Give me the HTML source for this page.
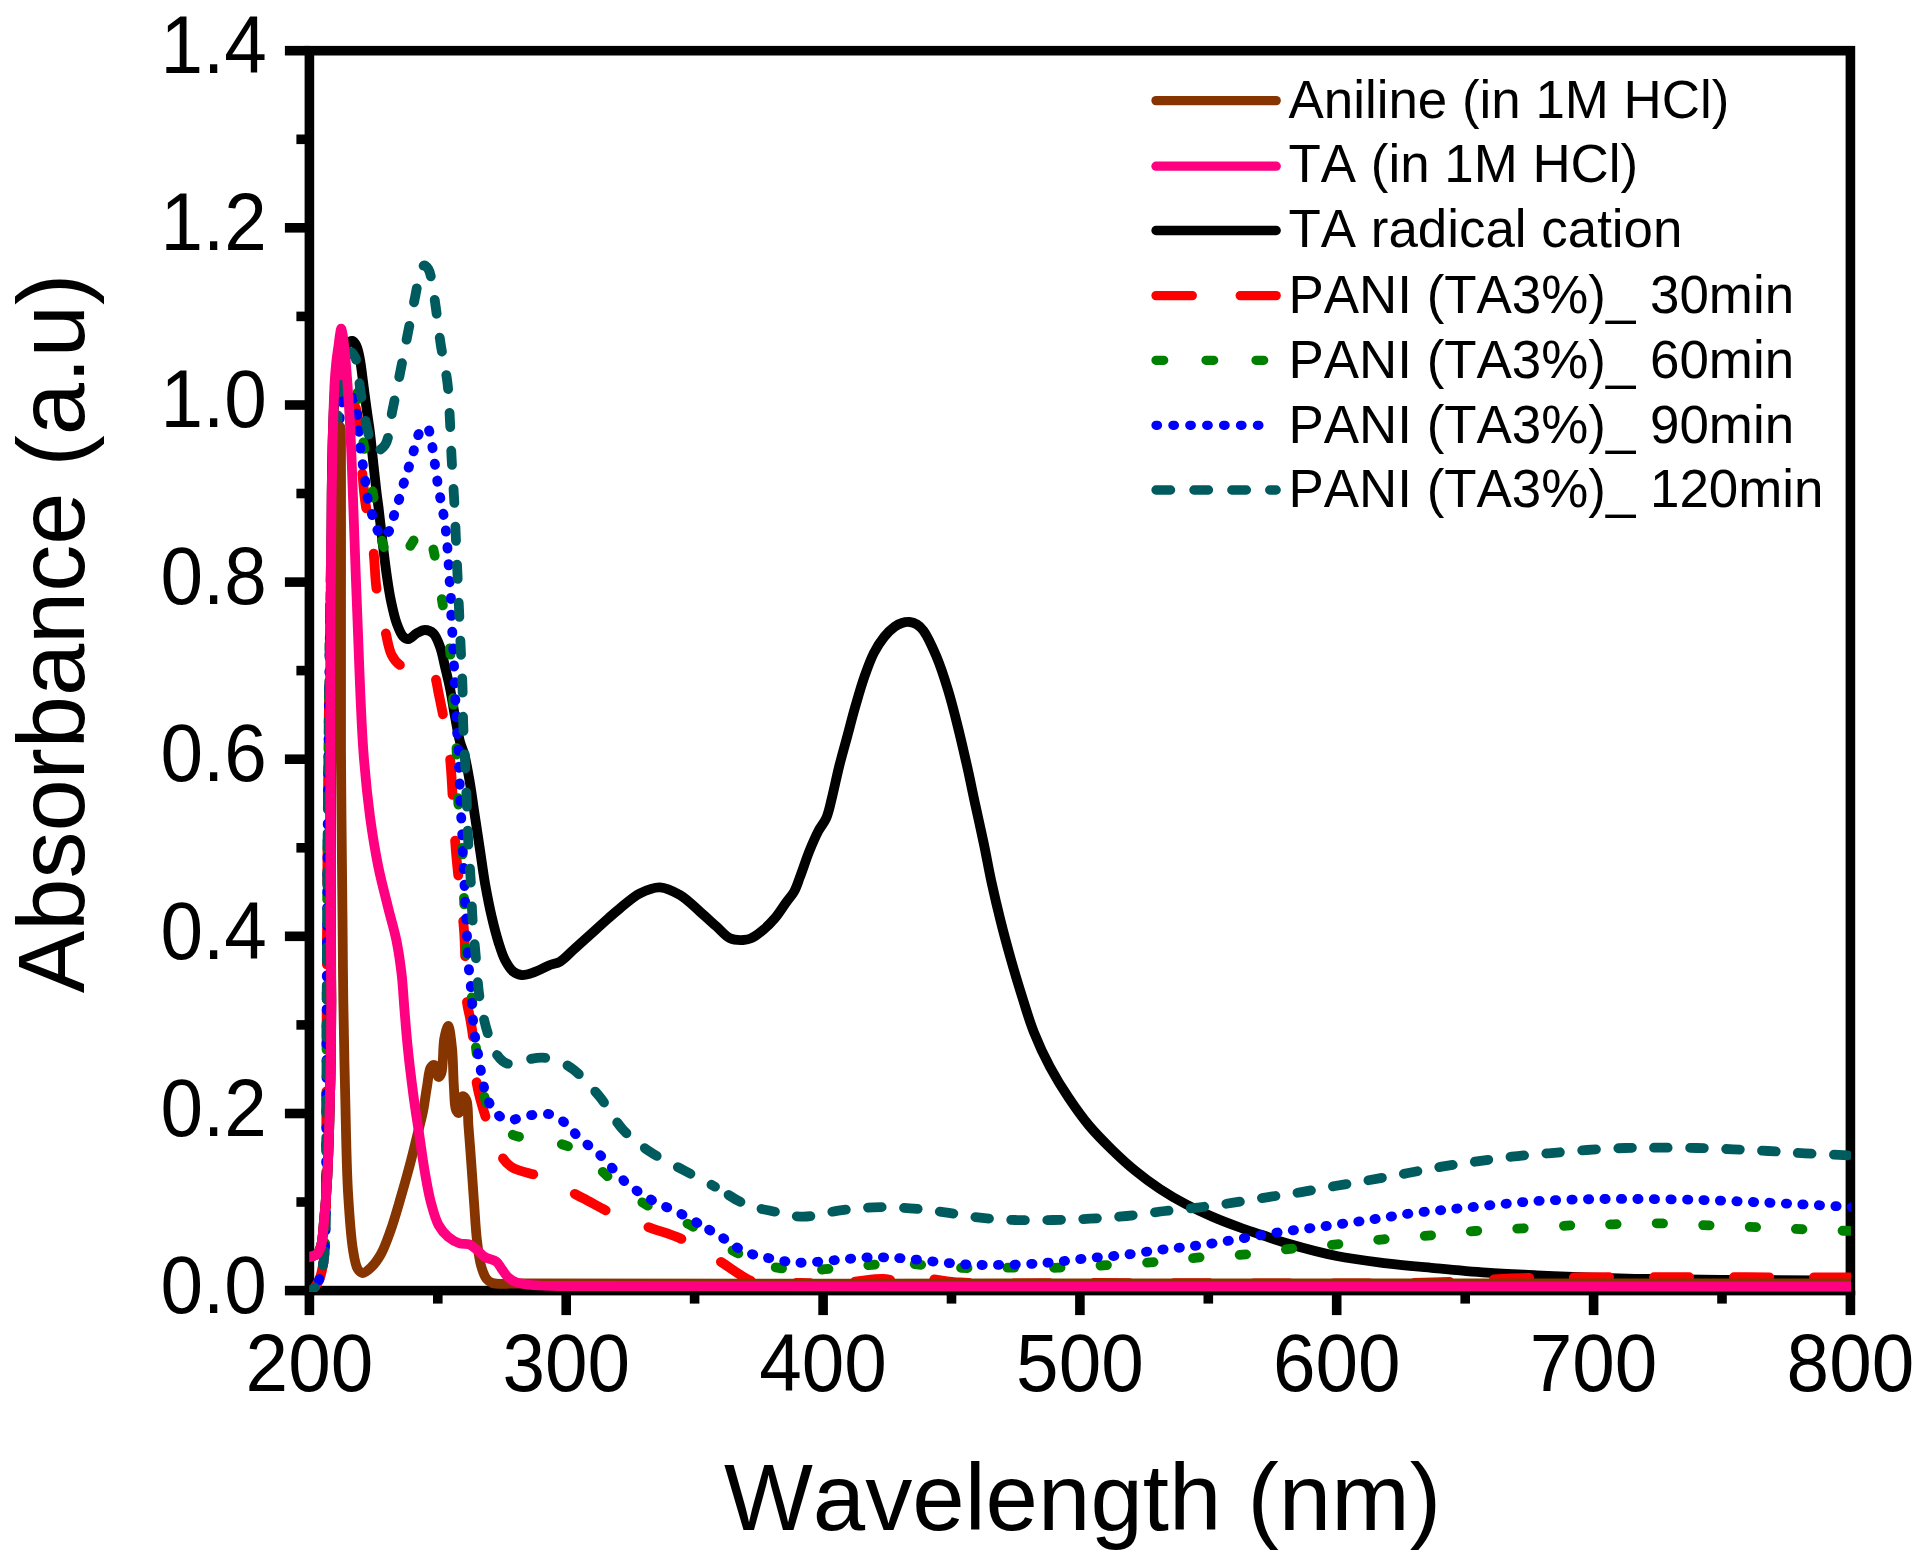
<!DOCTYPE html>
<html lang="en"><head><meta charset="utf-8"><title>UV-Vis Absorbance</title>
<style>html,body{margin:0;padding:0;background:#fff}body{width:1920px;height:1559px;overflow:hidden}svg{display:block}text{font-family:"Liberation Sans",sans-serif;fill:#000;font-kerning:none;font-variant-ligatures:none}</style></head><body>
<svg width="1920" height="1559" viewBox="0 0 1920 1559">
<rect width="1920" height="1559" fill="#fff"/>
<defs><clipPath id="plot"><rect x="309.4" y="45.7" width="1541.6" height="1246.4"/></clipPath></defs>
<g stroke="#000" stroke-width="9.6" fill="none" stroke-linecap="butt"><rect x="309.4" y="50.7" width="1541.0" height="1239.9"/><line x1="309.4" y1="1290.6" x2="309.4" y2="1315.1"/><line x1="566.2" y1="1290.6" x2="566.2" y2="1315.1"/><line x1="823.1" y1="1290.6" x2="823.1" y2="1315.1"/><line x1="1079.9" y1="1290.6" x2="1079.9" y2="1315.1"/><line x1="1336.7" y1="1290.6" x2="1336.7" y2="1315.1"/><line x1="1593.6" y1="1290.6" x2="1593.6" y2="1315.1"/><line x1="1850.4" y1="1290.6" x2="1850.4" y2="1315.1"/><line x1="437.8" y1="1290.6" x2="437.8" y2="1303.6"/><line x1="694.6" y1="1290.6" x2="694.6" y2="1303.6"/><line x1="951.5" y1="1290.6" x2="951.5" y2="1303.6"/><line x1="1208.3" y1="1290.6" x2="1208.3" y2="1303.6"/><line x1="1465.2" y1="1290.6" x2="1465.2" y2="1303.6"/><line x1="1722.0" y1="1290.6" x2="1722.0" y2="1303.6"/><line x1="284.9" y1="1290.6" x2="309.4" y2="1290.6"/><line x1="284.9" y1="1113.5" x2="309.4" y2="1113.5"/><line x1="284.9" y1="936.3" x2="309.4" y2="936.3"/><line x1="284.9" y1="759.2" x2="309.4" y2="759.2"/><line x1="284.9" y1="582.1" x2="309.4" y2="582.1"/><line x1="284.9" y1="405.0" x2="309.4" y2="405.0"/><line x1="284.9" y1="227.8" x2="309.4" y2="227.8"/><line x1="284.9" y1="50.7" x2="309.4" y2="50.7"/><line x1="296.4" y1="1202.0" x2="309.4" y2="1202.0"/><line x1="296.4" y1="1024.9" x2="309.4" y2="1024.9"/><line x1="296.4" y1="847.8" x2="309.4" y2="847.8"/><line x1="296.4" y1="670.6" x2="309.4" y2="670.6"/><line x1="296.4" y1="493.5" x2="309.4" y2="493.5"/><line x1="296.4" y1="316.4" x2="309.4" y2="316.4"/><line x1="296.4" y1="139.3" x2="309.4" y2="139.3"/></g>
<g font-size="76.5"><text transform="translate(309.4 1391.2) scale(1 1.055)" text-anchor="middle">200</text><text transform="translate(566.2 1391.2) scale(1 1.055)" text-anchor="middle">300</text><text transform="translate(823.1 1391.2) scale(1 1.055)" text-anchor="middle">400</text><text transform="translate(1079.9 1391.2) scale(1 1.055)" text-anchor="middle">500</text><text transform="translate(1336.7 1391.2) scale(1 1.055)" text-anchor="middle">600</text><text transform="translate(1593.6 1391.2) scale(1 1.055)" text-anchor="middle">700</text><text transform="translate(1850.4 1391.2) scale(1 1.055)" text-anchor="middle">800</text><text transform="translate(266.8 1312.8) scale(1 1.055)" text-anchor="end">0.0</text><text transform="translate(266.8 1135.7) scale(1 1.055)" text-anchor="end">0.2</text><text transform="translate(266.8 958.5) scale(1 1.055)" text-anchor="end">0.4</text><text transform="translate(266.8 781.4) scale(1 1.055)" text-anchor="end">0.6</text><text transform="translate(266.8 604.3) scale(1 1.055)" text-anchor="end">0.8</text><text transform="translate(266.8 427.2) scale(1 1.055)" text-anchor="end">1.0</text><text transform="translate(266.8 250.0) scale(1 1.055)" text-anchor="end">1.2</text><text transform="translate(266.8 72.9) scale(1 1.055)" text-anchor="end">1.4</text></g>
<text x="1082.5" y="1529.5" font-size="94.2" text-anchor="middle">Wavelength (nm)</text>
<text transform="translate(83.5 633.5) rotate(-90)" font-size="93.8" text-anchor="middle">Absorbance (a.u)</text>
<g clip-path="url(#plot)" fill="none" stroke-width="9.8" stroke-linecap="round" stroke-linejoin="round">
<path id="black" stroke="#000000" d="M305.0 1258.0C306.5 1257.7 307.8 1257.5 309.5 1257.0C311.7 1256.3 315.1 1255.7 317.0 1254.0C319.0 1252.2 319.9 1249.5 321.0 1246.0C322.8 1240.1 323.1 1230.2 324.0 1221.0C325.1 1209.7 326.2 1196.4 327.0 1183.0C327.9 1167.9 328.4 1151.8 329.0 1135.0C329.6 1116.6 330.1 1097.7 330.5 1077.0C330.9 1053.2 331.3 1027.3 331.3 1000.0C331.3 968.8 330.7 936.7 330.5 900.0C330.3 855.1 330.2 800.0 330.3 750.0C330.4 700.0 330.7 645.9 331.0 600.0C331.2 561.0 331.3 522.7 331.7 492.0C332.0 469.1 332.2 450.8 332.9 432.0C333.5 415.4 334.0 398.5 335.5 385.0C336.6 374.7 337.7 365.4 340.0 358.0C341.7 352.4 343.8 346.8 346.5 344.0C348.3 342.2 350.7 340.6 352.4 340.9C354.1 341.2 355.4 343.8 356.5 346.0C358.0 349.0 358.7 353.2 359.7 358.0C361.1 364.8 362.1 374.7 363.2 383.0C364.3 391.3 365.4 399.8 366.5 408.0C367.6 416.0 368.8 423.3 369.9 431.8C371.1 441.5 372.2 452.7 373.3 463.0C374.4 473.0 375.6 484.4 376.6 492.7C377.3 498.6 377.8 501.9 378.6 508.0C379.7 517.0 381.1 530.5 382.5 541.7C383.8 552.8 385.2 564.7 386.7 575.0C388.0 583.9 389.1 591.8 390.8 600.0C392.5 607.9 394.3 616.7 396.7 623.3C398.6 628.5 400.8 634.2 403.3 636.7C404.8 638.3 406.5 639.3 408.3 639.2C410.8 639.0 413.8 634.9 416.7 633.3C419.4 631.8 422.2 630.0 425.0 630.0C427.8 630.0 431.0 631.2 433.3 633.3C436.3 636.1 438.1 641.7 440.0 646.7C442.2 652.6 443.4 659.9 445.0 666.7C446.7 673.8 448.4 680.6 450.0 688.3C451.8 697.1 453.3 707.5 455.0 716.7C456.6 725.3 458.1 734.7 460.0 741.7C461.4 746.9 463.1 749.7 464.5 755.0C466.5 762.6 468.3 773.5 470.0 783.3C471.8 794.0 473.3 805.6 475.0 816.7C476.7 827.8 478.3 838.9 480.0 850.0C481.7 861.1 483.1 872.2 485.0 883.3C487.0 894.4 489.3 906.4 491.7 916.7C493.8 925.7 495.9 934.1 498.3 941.7C500.4 948.3 502.2 954.7 505.0 960.0C507.4 964.5 510.1 969.2 513.3 971.7C515.8 973.7 518.6 974.8 521.7 975.0C525.2 975.3 529.2 973.9 533.3 972.5C538.4 970.8 545.1 966.9 550.0 965.0C553.7 963.6 556.5 963.7 560.0 961.7C564.8 958.9 569.9 952.9 575.0 948.3C580.4 943.4 586.1 938.3 591.7 933.3C597.2 928.3 603.2 922.8 608.3 918.3C612.5 914.6 615.5 911.9 620.0 908.3C625.7 903.7 633.0 896.8 640.0 893.3C646.4 890.1 653.4 887.0 660.0 887.3C666.7 887.6 673.6 891.3 680.0 895.0C687.0 899.1 693.7 906.2 700.0 911.7C705.9 916.8 711.4 922.0 716.7 926.7C721.4 930.8 725.2 936.2 730.0 938.3C734.2 940.2 739.4 940.2 743.3 940.0C746.4 939.8 748.7 939.4 751.5 938.1C755.2 936.5 759.4 933.1 763.1 930.0C767.1 926.7 770.9 922.8 774.6 918.5C778.7 913.7 782.7 907.1 786.2 902.3C789.1 898.3 792.0 895.5 794.2 891.5C796.6 887.1 797.9 882.5 800.0 876.9C802.8 869.6 806.0 859.5 809.2 851.5C812.2 844.2 815.3 836.8 818.5 830.8C821.1 825.9 824.1 823.0 826.3 818.0C829.0 811.9 830.3 804.1 832.3 796.2C834.6 787.0 836.7 776.2 839.2 766.2C841.7 756.2 844.6 746.2 847.3 736.2C850.0 726.2 852.5 716.2 855.4 706.2C858.3 696.2 861.3 685.5 864.6 676.2C867.5 667.9 870.3 660.0 873.8 653.1C876.9 647.1 880.5 641.5 884.2 636.9C887.5 632.9 891.3 629.2 894.6 626.8C897.1 625.0 899.5 623.8 902.0 623.0C904.4 622.2 907.0 621.8 909.5 622.0C912.0 622.2 914.7 623.1 917.0 624.5C919.5 626.0 921.3 627.7 923.6 630.8C927.6 636.3 932.5 647.2 936.4 656.4C940.7 666.6 944.4 678.1 947.9 689.7C951.7 702.0 955.0 715.3 958.2 728.2C961.4 741.0 964.3 753.9 967.2 766.7C970.1 779.5 972.6 792.3 975.4 805.1C978.2 817.9 981.1 830.8 983.8 843.6C986.5 856.4 988.7 869.3 991.5 882.1C994.3 894.9 997.3 907.7 1000.5 920.5C1003.7 933.4 1007.2 946.2 1010.8 959.0C1014.4 971.8 1018.4 984.9 1022.3 997.4C1026.1 1009.4 1029.4 1021.0 1034.0 1032.5C1038.6 1044.2 1044.1 1056.0 1050.0 1067.0C1055.7 1077.6 1061.9 1087.7 1068.5 1097.5C1075.0 1107.2 1081.7 1116.7 1089.0 1125.5C1096.2 1134.1 1104.2 1142.1 1112.0 1149.7C1119.5 1157.0 1127.0 1164.0 1135.0 1170.5C1143.0 1177.1 1151.5 1183.4 1160.0 1189.0C1168.3 1194.5 1176.7 1199.4 1185.5 1204.0C1194.4 1208.7 1203.8 1213.0 1213.0 1217.0C1222.0 1220.9 1231.4 1224.4 1240.0 1227.5C1247.7 1230.3 1254.5 1232.4 1262.0 1235.0C1270.0 1237.7 1277.0 1240.4 1286.7 1243.3C1300.4 1247.3 1319.9 1252.7 1336.7 1256.0C1353.3 1259.3 1370.0 1261.2 1386.7 1263.3C1403.3 1265.3 1420.0 1266.7 1436.7 1268.3C1453.4 1269.9 1470.0 1271.5 1486.7 1272.7C1503.4 1273.9 1520.0 1274.5 1536.7 1275.3C1553.4 1276.1 1569.0 1276.7 1586.7 1277.3C1606.6 1278.0 1626.5 1278.6 1650.0 1279.0C1679.5 1279.5 1716.2 1279.8 1750.0 1280.0C1784.8 1280.3 1820.7 1280.3 1856.0 1280.5"/>
<path id="red" stroke="#FF0000" stroke-dasharray="35.3 45.7" stroke-dashoffset="73.9" d="M309.4 1291.0C310.9 1290.0 312.6 1289.5 314.0 1288.0C316.0 1285.9 318.0 1282.6 319.5 1279.0C321.4 1274.3 322.5 1268.4 323.5 1262.0C324.7 1254.1 325.0 1246.5 325.5 1235.0C326.3 1214.6 326.0 1182.3 326.2 1150.0C326.4 1107.1 326.5 1050.0 326.7 1000.0C326.9 950.0 327.1 900.0 327.5 850.0C327.9 800.0 328.4 746.7 329.0 700.0C329.6 659.1 329.9 621.0 331.0 585.0C332.0 553.2 333.5 522.6 335.0 495.0C336.2 471.6 337.2 446.8 339.0 430.0C340.1 419.4 340.9 409.5 343.0 404.0C344.1 401.1 345.5 398.3 347.0 398.0C348.2 397.8 349.7 399.7 351.0 401.0C352.7 402.8 354.4 404.2 355.8 408.0C359.7 418.7 360.8 458.1 362.5 475.0C363.5 485.3 363.7 490.3 365.0 500.0C366.8 513.8 371.3 534.2 373.3 550.0C375.1 564.0 374.7 576.5 376.7 590.0C378.8 604.2 382.9 621.4 385.8 633.3C387.8 641.8 388.8 649.4 391.7 655.0C393.9 659.3 396.9 662.9 400.0 665.0C402.5 666.7 405.3 667.1 408.3 667.5C411.8 667.9 416.2 667.1 420.0 667.0C423.7 666.9 428.4 665.3 431.0 667.0C433.7 668.8 434.3 674.1 435.5 678.0C436.8 682.3 437.3 686.9 438.3 691.7C439.4 697.0 440.4 701.7 441.7 708.3C443.6 717.8 446.7 732.8 448.3 743.3C449.6 751.9 449.9 756.5 450.8 766.7C452.4 785.9 453.6 822.3 455.8 850.0C458.0 877.7 462.4 906.8 464.2 933.0C465.8 956.5 465.0 984.5 466.7 1000.0C467.6 1008.4 469.2 1012.8 470.3 1019.2C471.4 1025.6 472.3 1030.7 473.2 1038.5C474.6 1050.6 474.4 1070.1 477.0 1084.7C479.4 1098.2 483.8 1111.5 487.6 1123.1C490.9 1133.0 493.7 1142.4 498.0 1150.0C501.6 1156.4 504.6 1162.0 510.7 1166.4C518.7 1172.1 533.0 1173.1 544.4 1178.0C557.0 1183.4 570.7 1191.9 582.9 1198.2C594.0 1203.9 603.5 1209.6 614.6 1214.5C626.3 1219.7 640.2 1224.1 651.7 1228.3C661.8 1231.9 670.2 1233.8 680.0 1238.3C691.7 1243.6 705.5 1252.5 716.7 1259.3C726.4 1265.2 736.8 1273.0 743.3 1276.7C746.9 1278.8 747.8 1279.9 752.0 1281.0C761.4 1283.4 783.8 1282.8 800.0 1283.0"/>
<path id="red2" stroke="#FF0000" stroke-dasharray="35.3 44.7" stroke-dashoffset="25.15" d="M800.0 1283.0C816.5 1283.2 835.1 1282.8 850.0 1282.0C862.2 1281.3 873.1 1278.8 883.0 1279.0C891.1 1279.2 897.7 1282.0 905.0 1282.0C912.3 1282.0 918.9 1279.1 927.0 1279.0C936.9 1278.9 945.2 1281.7 960.0 1282.5C990.5 1284.2 1044.5 1282.9 1100.0 1283.0C1181.2 1283.1 1334.9 1283.9 1400.0 1283.0C1431.5 1282.6 1449.9 1281.9 1470.0 1281.0C1485.2 1280.3 1495.9 1279.1 1510.0 1278.5C1525.7 1277.9 1536.4 1277.7 1560.0 1277.5C1617.5 1276.9 1757.3 1277.4 1856.0 1277.3"/>
<path id="green" stroke="#008000" stroke-dasharray="6.5 43.5" stroke-dashoffset="4.0" d="M309.4 1291.0C310.9 1290.0 312.6 1289.5 314.0 1288.0C316.0 1285.9 318.0 1282.6 319.5 1279.0C321.4 1274.3 322.5 1268.4 323.5 1262.0C324.7 1254.1 325.0 1246.5 325.5 1235.0C326.3 1214.6 326.0 1182.3 326.2 1150.0C326.4 1107.1 326.5 1050.0 326.7 1000.0C326.9 950.0 327.1 900.0 327.5 850.0C327.9 800.0 328.4 748.2 329.0 700.0C329.6 655.1 329.9 610.5 331.0 570.0C332.0 534.5 333.5 499.8 335.0 470.0C336.2 446.0 337.2 421.6 339.0 405.0C340.1 394.7 340.9 385.3 343.0 380.0C344.1 377.1 345.5 374.3 347.0 374.0C348.2 373.8 349.7 375.6 351.0 377.0C352.7 378.9 354.4 380.9 355.8 385.0C359.3 395.1 360.5 423.9 363.3 441.7C365.8 457.6 368.8 471.1 371.7 486.7C374.9 503.7 378.1 527.5 381.7 540.0C383.7 547.0 385.3 552.0 388.0 556.0C390.0 559.1 392.5 562.9 395.0 563.0C397.5 563.1 400.4 559.0 403.0 556.0C406.5 552.1 410.6 545.6 413.3 541.0C415.5 537.4 416.5 533.5 418.5 531.0C420.0 529.0 421.9 526.4 423.5 526.5C425.3 526.6 427.3 530.0 428.8 533.0C431.2 537.7 432.4 545.0 434.2 553.3C437.0 566.2 439.8 586.9 442.5 603.3C445.1 619.1 448.2 634.0 450.0 650.0C451.9 666.8 452.2 684.6 453.3 701.7C454.4 718.6 455.9 735.2 456.7 752.0C457.5 768.9 457.3 786.1 458.3 803.0C459.3 819.8 461.5 836.3 462.5 853.0C463.5 869.7 463.5 886.2 464.2 903.0C464.9 920.2 465.3 937.9 466.7 955.0C468.1 971.9 470.8 988.3 472.5 1005.0C474.2 1021.9 474.5 1038.9 477.0 1055.8C479.5 1072.9 482.6 1093.8 487.6 1106.8C491.0 1115.7 494.2 1122.9 500.0 1128.0C505.8 1133.1 514.6 1135.5 522.2 1137.6C529.6 1139.6 537.3 1139.0 545.0 1140.5C553.3 1142.1 562.6 1143.8 570.3 1147.2C577.6 1150.4 583.7 1155.1 590.0 1160.0C596.5 1165.0 601.1 1170.9 608.5 1177.0C618.4 1185.2 631.9 1196.2 645.0 1204.0C658.4 1212.0 674.4 1216.6 688.3 1224.0C702.1 1231.4 714.7 1241.3 728.3 1248.3"/>
<path id="green2" stroke="#008000" stroke-dasharray="6.5 40" stroke-dashoffset="41.75" d="M728.3 1248.3C741.4 1255.1 754.8 1262.1 768.3 1265.7C781.0 1269.1 793.3 1269.7 806.7 1270.0C821.2 1270.3 837.0 1267.8 852.3 1266.7C867.8 1265.6 882.8 1263.2 899.0 1263.3C916.4 1263.4 935.1 1267.0 953.3 1267.7C971.6 1268.4 990.4 1267.7 1008.3 1267.7C1025.4 1267.7 1041.6 1268.1 1058.3 1267.7C1075.0 1267.3 1091.6 1266.0 1108.3 1265.0C1125.2 1264.0 1143.1 1263.1 1159.3 1261.7C1174.1 1260.5 1187.1 1258.6 1201.7 1257.3C1217.3 1256.0 1234.2 1255.5 1250.0 1254.0C1265.3 1252.5 1280.3 1249.9 1295.0 1248.3C1309.2 1246.7 1322.4 1245.8 1336.7 1244.3C1351.8 1242.8 1367.6 1240.8 1383.3 1239.3C1399.3 1237.8 1416.0 1236.7 1431.7 1235.3C1446.5 1233.9 1460.2 1232.2 1475.0 1231.0C1490.6 1229.8 1507.1 1229.2 1523.3 1228.3C1539.8 1227.3 1557.6 1226.0 1573.3 1225.3C1587.4 1224.7 1599.6 1224.6 1613.3 1224.3C1627.6 1224.0 1642.1 1223.2 1657.3 1223.3C1673.7 1223.4 1691.4 1224.6 1708.3 1225.3C1725.0 1226.0 1742.0 1226.6 1758.3 1227.3C1773.9 1228.0 1788.3 1228.7 1804.0 1229.3C1820.8 1230.0 1838.7 1230.6 1856.0 1231.2"/>
<path id="blue" stroke="#0000FF" stroke-dasharray="1.3 15.6" stroke-dashoffset="2.15" d="M309.4 1291.0C310.9 1290.0 312.6 1289.5 314.0 1288.0C316.0 1285.9 318.0 1282.6 319.5 1279.0C321.4 1274.3 322.5 1268.4 323.5 1262.0C324.7 1254.1 325.0 1246.5 325.5 1235.0C326.3 1214.6 326.0 1182.3 326.2 1150.0C326.4 1107.1 326.5 1050.0 326.7 1000.0C326.9 950.0 327.1 900.0 327.5 850.0C327.9 800.0 328.4 747.2 329.0 700.0C329.6 657.8 329.9 617.1 331.0 580.0C332.0 547.8 333.5 517.6 335.0 490.0C336.2 466.6 337.2 441.6 339.0 425.0C340.1 414.7 340.9 405.3 343.0 400.0C344.1 397.1 345.5 394.4 347.0 394.0C348.2 393.7 349.8 395.0 351.0 396.0C352.5 397.3 354.0 399.1 355.0 401.7C356.6 405.7 356.8 412.7 357.5 418.3C358.2 423.8 358.6 429.4 359.2 435.0C359.7 440.6 360.1 446.2 360.8 451.7C361.5 457.3 362.5 462.8 363.3 468.3C364.1 473.9 365.0 479.4 365.8 485.0C366.6 490.6 367.1 496.2 368.3 501.7C369.6 507.3 371.6 513.2 373.3 518.3C374.8 522.8 376.1 527.7 378.0 531.0C379.5 533.5 381.2 536.9 383.0 537.0C384.9 537.1 387.5 533.6 389.2 530.8C391.6 526.9 392.5 520.0 394.2 514.7C395.9 509.4 397.6 504.4 399.2 499.0C400.9 493.4 402.5 487.3 404.2 481.7C405.8 476.3 407.5 471.2 409.2 465.8C410.9 460.3 412.6 454.5 414.2 449.2C415.6 444.3 416.6 438.8 418.3 435.0C419.5 432.2 420.7 429.5 422.5 428.3C423.9 427.3 426.1 426.6 427.3 427.3C428.9 428.2 429.5 432.5 430.3 435.5C431.2 438.9 431.7 442.7 432.3 446.5C433.0 450.6 433.5 454.6 434.2 459.2C435.0 464.6 435.8 471.0 436.7 476.7C437.5 482.1 438.2 487.2 439.2 492.5C440.2 498.0 441.5 503.5 442.5 509.0C443.5 514.6 444.5 520.2 445.3 525.8C446.0 531.4 446.5 536.9 447.0 542.5C447.5 548.1 447.9 553.6 448.3 559.2C448.7 565.0 448.8 570.9 449.2 576.7C449.6 582.3 450.5 587.8 450.8 593.3C451.1 598.7 450.8 603.7 451.0 609.2C451.2 615.1 451.7 621.6 452.0 627.5C452.3 633.0 452.7 637.9 453.0 643.3C453.3 649.0 453.4 655.0 453.7 660.8C454.0 666.4 454.5 671.9 454.7 677.5C454.9 683.1 454.8 688.6 455.0 694.2C455.2 700.0 455.9 706.0 456.2 711.7C456.5 717.1 456.4 722.1 456.7 727.5C457.0 733.2 458.0 739.2 458.3 745.0C458.6 750.6 458.6 756.1 458.8 761.7C459.0 767.2 459.4 772.8 459.6 778.3C459.8 783.9 459.8 789.4 460.0 795.0C460.2 800.6 460.5 806.1 460.8 811.7C461.1 817.2 461.7 822.8 462.0 828.3C462.3 833.9 462.3 839.4 462.5 845.0C462.7 850.8 463.0 856.7 463.3 862.5C463.6 868.1 463.9 873.6 464.2 879.2C464.5 885.0 464.7 891.0 465.0 896.7C465.3 902.1 465.5 907.1 465.8 912.5C466.1 918.2 466.4 924.2 466.7 930.0C467.0 935.6 467.2 941.1 467.5 946.7C467.8 952.2 467.8 957.7 468.3 963.3C468.8 969.1 469.7 975.0 470.3 980.8C470.9 986.6 471.3 992.7 471.7 998.3C472.0 1003.5 472.1 1008.3 472.5 1013.5C472.9 1019.1 473.4 1025.0 474.1 1030.8C474.9 1036.6 476.0 1042.4 477.0 1048.1C478.0 1053.6 478.9 1059.0 479.9 1064.5C480.9 1070.2 481.5 1076.1 482.8 1081.8C484.1 1087.6 485.3 1093.7 487.6 1099.1C489.8 1104.3 492.5 1109.9 496.3 1113.5C499.9 1116.9 505.1 1119.9 509.7 1120.3C514.1 1120.7 518.5 1117.4 523.2 1116.4C528.1 1115.4 533.7 1114.8 538.6 1114.5C543.0 1114.2 546.9 1113.3 551.1 1114.5C556.2 1116.0 562.0 1120.3 566.5 1124.1C570.9 1127.7 573.9 1132.7 578.0 1136.6C582.0 1140.4 586.4 1143.7 590.6 1147.2C594.8 1150.7 598.5 1153.4 603.1 1157.8C609.6 1164.0 616.9 1174.7 625.0 1181.7C633.1 1188.7 642.4 1194.7 651.7 1200.0C660.8 1205.2 670.7 1208.5 680.0 1213.3C689.5 1218.2 700.4 1224.7 708.3 1229.3"/>
<path id="blue2" stroke="#0000FF" stroke-dasharray="1.3 15.2" stroke-dashoffset="15.65" d="M708.3 1229.3C714.1 1232.7 718.5 1235.2 723.3 1238.3C727.9 1241.2 732.0 1244.7 736.7 1247.3C741.5 1249.9 746.8 1252.3 751.7 1254.0C756.2 1255.5 760.6 1256.3 765.0 1257.3C769.4 1258.3 773.9 1259.2 778.3 1260.0C782.8 1260.8 787.2 1261.9 791.7 1262.3C796.1 1262.7 799.6 1262.8 805.0 1262.7C813.3 1262.5 826.0 1260.9 836.7 1260.0C847.7 1259.1 859.0 1257.6 870.0 1257.3C880.7 1257.0 889.9 1257.5 901.7 1258.3C916.5 1259.3 937.1 1262.2 951.7 1263.3C963.0 1264.2 970.6 1264.8 981.7 1265.0C995.5 1265.2 1014.5 1264.7 1028.3 1264.0C1039.4 1263.5 1048.2 1262.7 1058.3 1261.7C1068.7 1260.7 1079.3 1259.1 1090.0 1258.0C1101.0 1256.9 1112.1 1256.3 1123.3 1255.0C1134.8 1253.7 1147.1 1251.4 1158.3 1250.0C1168.7 1248.7 1178.2 1248.0 1188.3 1246.7C1198.7 1245.4 1209.4 1243.9 1220.0 1242.2C1230.6 1240.5 1241.1 1238.5 1251.7 1236.7C1262.2 1235.0 1272.6 1233.2 1283.3 1231.7C1294.3 1230.1 1305.6 1228.8 1316.7 1227.3C1327.8 1225.8 1339.2 1224.2 1350.0 1222.7C1360.3 1221.2 1369.9 1219.8 1380.0 1218.3C1390.4 1216.7 1401.1 1214.7 1411.7 1213.3C1422.2 1211.9 1433.2 1211.0 1443.3 1210.0C1452.6 1209.0 1460.6 1208.2 1470.0 1207.3C1480.5 1206.3 1492.2 1205.0 1503.3 1204.0C1514.4 1202.9 1525.6 1201.7 1536.7 1201.0C1547.8 1200.3 1558.8 1200.0 1570.0 1199.7C1581.5 1199.4 1593.6 1199.1 1605.0 1199.0C1615.8 1198.9 1624.3 1198.9 1636.7 1199.0C1654.5 1199.1 1679.9 1199.4 1701.7 1200.0C1723.8 1200.6 1746.2 1201.7 1768.3 1202.7C1790.1 1203.7 1817.2 1205.1 1833.3 1206.0C1842.8 1206.5 1848.4 1206.9 1856.0 1207.3"/>
<path id="teal" stroke="#005B5F" stroke-dasharray="14.2 23.8" stroke-dashoffset="7.85" d="M309.4 1291.0C310.9 1290.0 312.6 1289.5 314.0 1288.0C316.0 1285.9 318.0 1282.6 319.5 1279.0C321.4 1274.3 322.5 1268.4 323.5 1262.0C324.7 1254.1 325.0 1246.5 325.5 1235.0C326.3 1214.6 326.0 1182.3 326.2 1150.0C326.4 1107.1 326.5 1050.0 326.7 1000.0C326.9 950.0 327.1 900.0 327.5 850.0C327.9 800.0 328.4 749.1 329.0 700.0C329.6 652.5 329.8 602.7 331.0 560.0C332.0 523.9 333.3 490.4 335.0 460.0C336.4 434.6 337.8 408.4 340.0 390.0C341.4 377.9 342.5 366.7 345.0 360.0C346.4 356.3 348.2 352.2 350.0 352.0C351.6 351.8 353.6 354.2 355.0 357.0C358.2 363.3 358.7 380.9 360.8 393.0C362.9 405.3 364.7 419.5 367.5 430.0C369.7 438.1 371.3 449.7 375.0 451.0C377.7 452.0 382.4 448.7 385.0 445.0C389.6 438.5 390.0 421.8 392.5 410.0C395.0 397.9 397.5 385.7 400.0 373.3C402.5 360.7 405.0 347.7 407.5 335.0C410.0 322.4 412.8 308.3 415.0 297.5C416.7 289.3 417.7 281.8 419.5 276.0C420.8 271.8 422.2 266.0 424.0 265.5C425.3 265.2 427.1 267.2 428.3 269.0C430.1 271.7 430.7 276.2 431.8 281.0C433.4 288.1 434.4 297.9 435.8 307.5C437.4 318.9 438.9 332.5 440.8 345.0C442.8 357.7 446.0 370.5 447.5 383.3C449.0 396.1 449.3 408.9 450.0 421.7C450.7 434.5 451.0 447.1 451.7 460.0C452.4 473.2 453.5 487.0 454.2 500.0C454.9 512.5 455.3 524.3 455.8 536.7C456.4 549.3 456.9 562.2 457.5 575.0C458.1 587.8 458.6 600.7 459.2 613.3C459.7 625.7 460.3 637.8 460.8 650.0C461.4 662.2 462.1 674.2 462.5 686.7C462.9 699.7 462.8 714.0 463.3 726.7C463.7 738.3 464.5 748.3 465.0 760.0C465.6 773.1 466.1 787.8 466.7 801.7C467.2 815.6 467.6 829.7 468.3 843.3C469.0 856.4 470.1 869.1 470.8 881.7C471.5 894.0 471.7 906.0 472.5 918.3C473.3 931.0 474.7 943.9 475.8 956.7C476.9 969.5 477.7 984.3 479.2 995.0C480.3 1002.8 481.6 1008.6 483.0 1015.0C484.4 1021.1 485.7 1026.7 487.6 1032.7C489.6 1039.1 491.5 1046.7 495.0 1052.0C498.1 1056.7 502.1 1062.1 506.9 1063.5C512.0 1065.0 519.0 1061.0 525.0 1060.0C530.8 1059.0 536.8 1057.5 542.4 1057.7C547.8 1057.9 553.0 1059.1 558.0 1061.0C563.2 1062.9 567.8 1065.2 573.2 1069.3C581.1 1075.4 591.0 1086.4 599.2 1096.2C607.8 1106.5 614.4 1120.5 623.3 1130.0C631.4 1138.7 640.3 1145.2 650.0 1151.7C660.2 1158.6 672.3 1164.1 683.3 1170.0C694.0 1175.7 704.6 1181.0 715.0 1186.7"/>
<path id="teal2" stroke="#005B5F" stroke-dasharray="13.7 22.3" stroke-dashoffset="20.1" d="M715.0 1186.7C725.2 1192.3 734.7 1199.8 745.0 1204.0C754.7 1208.0 765.1 1209.6 775.0 1211.7C784.5 1213.8 793.4 1216.7 803.3 1216.7C814.3 1216.7 826.6 1212.3 838.3 1210.7C849.9 1209.1 861.5 1207.7 873.3 1207.3C885.4 1206.9 897.9 1207.4 910.0 1208.3C921.8 1209.1 933.3 1210.7 945.0 1212.3C956.7 1213.9 968.3 1216.4 980.0 1217.7C991.6 1219.0 1003.1 1219.6 1015.0 1220.0C1027.5 1220.4 1040.7 1220.2 1053.3 1220.0C1065.7 1219.8 1077.8 1219.4 1090.0 1218.7C1102.2 1218.0 1114.4 1217.3 1126.7 1216.0C1139.3 1214.7 1152.5 1212.5 1165.0 1211.0C1176.9 1209.6 1188.5 1208.7 1200.0 1207.3C1211.2 1205.9 1222.2 1204.4 1233.3 1202.7C1244.4 1201.0 1255.6 1199.0 1266.7 1197.3C1277.8 1195.6 1288.8 1194.2 1300.0 1192.3C1311.5 1190.4 1323.3 1188.1 1335.0 1186.0C1346.7 1184.0 1358.2 1182.1 1370.0 1180.0C1382.1 1177.9 1394.6 1175.5 1406.7 1173.3C1418.5 1171.1 1430.2 1168.7 1441.7 1166.7C1452.9 1164.8 1463.6 1163.3 1475.0 1161.7C1486.9 1160.0 1499.5 1158.1 1511.7 1156.7C1523.9 1155.3 1536.0 1154.4 1548.3 1153.3C1560.9 1152.2 1573.9 1150.9 1586.7 1150.0C1599.5 1149.1 1612.7 1148.4 1625.0 1148.0C1636.5 1147.6 1646.8 1147.7 1658.3 1147.7C1670.6 1147.7 1684.1 1147.7 1696.7 1148.0C1709.0 1148.3 1721.2 1148.8 1733.3 1149.3C1745.1 1149.8 1756.5 1150.3 1768.3 1151.0C1780.4 1151.7 1791.8 1152.6 1805.0 1153.3C1820.6 1154.2 1839.0 1154.9 1856.0 1155.7"/>
<path id="brown" stroke="#863400" d="M305.0 1258.0C306.5 1257.7 307.8 1257.5 309.5 1257.0C311.7 1256.3 315.1 1255.7 317.0 1254.0C319.0 1252.2 319.9 1249.5 321.0 1246.0C322.8 1240.1 323.1 1230.2 324.0 1221.0C325.1 1209.7 326.2 1196.4 327.0 1183.0C327.9 1167.9 328.4 1151.8 329.0 1135.0C329.6 1116.6 330.1 1097.7 330.5 1077.0C330.9 1053.2 331.2 1027.3 331.3 1000.0C331.4 968.8 331.0 936.7 331.0 900.0C331.0 855.1 331.1 800.0 331.3 750.0C331.5 700.0 331.6 647.2 332.5 600.0C333.3 557.8 334.5 510.6 336.0 480.0C336.9 461.0 338.1 442.6 339.2 434.0C339.6 430.6 340.2 427.0 340.5 427.0C341.3 427.1 340.9 451.8 341.0 470.0C341.2 501.6 341.0 555.1 341.0 600.0C341.0 648.2 340.8 698.7 341.0 750.0C341.2 804.2 342.1 871.0 342.5 917.0C342.8 949.5 342.9 971.3 343.3 1000.0C343.8 1030.8 344.4 1064.0 345.2 1096.0C346.0 1128.0 346.4 1164.0 348.0 1192.0C349.3 1213.8 350.7 1236.0 353.0 1250.0C354.3 1258.1 355.3 1265.2 357.7 1269.0C359.0 1271.1 360.6 1272.9 362.5 1273.0C364.9 1273.1 368.3 1270.1 371.0 1267.5C374.5 1264.2 378.0 1259.3 381.0 1254.0C384.6 1247.5 387.4 1239.3 390.4 1231.0C393.8 1221.5 396.9 1210.6 400.0 1200.0C403.3 1188.8 406.7 1176.7 409.7 1165.5C412.5 1155.0 415.1 1144.2 417.4 1134.7C419.4 1126.5 421.4 1119.5 423.0 1111.6C424.6 1103.5 425.6 1094.4 427.0 1086.6C428.2 1079.7 428.6 1070.5 430.8 1067.3C431.9 1065.8 433.5 1064.6 434.6 1065.0C436.4 1065.7 437.0 1076.8 438.5 1077.0C439.4 1077.1 440.6 1075.2 441.4 1073.0C443.5 1067.3 442.6 1047.1 444.3 1038.5C445.3 1033.2 447.0 1025.9 448.2 1026.0C449.7 1026.1 451.1 1039.6 452.0 1048.0C453.2 1059.0 453.1 1075.4 453.9 1086.6C454.5 1095.3 454.2 1105.6 455.9 1109.7C456.7 1111.5 457.9 1113.2 458.8 1113.0C460.5 1112.6 460.7 1096.8 462.6 1096.2C463.7 1095.9 465.4 1097.9 466.4 1100.0C468.5 1104.5 467.7 1115.8 468.4 1125.0C469.3 1136.5 470.4 1150.7 471.3 1163.6C472.2 1176.4 473.1 1189.2 474.0 1202.0C475.0 1214.8 475.6 1229.1 477.0 1240.5C478.1 1249.8 479.0 1258.5 481.0 1265.5C482.5 1270.8 484.2 1276.0 486.6 1279.0C488.3 1281.1 489.6 1282.1 492.4 1283.0C498.0 1284.8 505.2 1283.4 520.0 1283.5C581.9 1284.1 817.0 1283.5 1000.0 1283.5C1244.4 1283.5 1570.7 1283.4 1856.0 1283.3"/>
<path stroke="#FF0080" stroke-width="5" stroke-linecap="butt" d="M341.2 333L341.2 380"/>
<path id="pink" stroke="#FF0080" d="M305.0 1258.0C306.5 1257.7 307.8 1257.5 309.5 1257.0C311.7 1256.3 315.1 1255.7 317.0 1254.0C319.0 1252.2 319.9 1249.5 321.0 1246.0C322.8 1240.1 323.1 1230.2 324.0 1221.0C325.1 1209.7 326.2 1196.4 327.0 1183.0C327.9 1167.9 328.4 1151.8 329.0 1135.0C329.6 1116.6 330.1 1097.7 330.5 1077.0C330.9 1053.2 331.3 1027.3 331.3 1000.0C331.3 968.8 330.7 936.7 330.5 900.0C330.3 855.1 330.3 800.0 330.3 750.0C330.3 700.0 330.3 645.9 330.6 600.0C330.8 561.0 331.2 522.7 331.7 492.0C332.0 469.1 332.4 451.0 332.9 432.0C333.4 414.8 333.9 395.9 334.6 383.0C335.1 374.5 335.6 368.5 336.3 362.0C336.9 356.4 337.7 351.3 338.4 346.5C339.0 342.2 339.4 337.8 340.0 334.5C340.4 332.2 340.8 328.6 341.2 328.6C341.6 328.6 342.2 332.1 342.6 334.5C343.3 338.1 343.8 342.4 344.4 348.0C345.4 356.9 346.6 372.1 347.4 383.0C348.1 392.6 348.7 401.5 349.2 410.0C349.7 417.7 350.0 423.9 350.4 432.0C350.9 441.9 351.4 454.0 351.8 465.0C352.2 476.0 352.5 483.5 353.0 498.0C354.0 525.8 355.8 578.7 357.5 620.0C359.2 662.6 360.7 713.9 363.3 750.0C365.2 775.9 367.3 796.1 370.0 816.7C372.4 834.6 375.1 850.9 378.3 866.7C381.3 881.3 385.1 895.2 388.3 908.3C391.2 920.1 394.5 930.5 396.7 941.7C398.9 952.8 400.4 963.7 401.7 975.0C403.0 986.5 403.5 998.1 404.5 1010.0C405.5 1022.4 406.4 1034.6 407.8 1048.0C409.3 1063.1 411.5 1080.8 413.5 1096.0C415.3 1109.7 417.4 1122.1 419.3 1135.0C421.2 1147.7 422.9 1161.2 425.0 1173.0C426.8 1183.3 428.4 1193.0 430.8 1202.0C433.0 1210.2 435.1 1218.9 438.5 1225.0C441.2 1229.8 444.3 1233.6 448.0 1236.7C451.5 1239.6 455.9 1242.2 459.7 1243.4C462.9 1244.4 466.4 1243.3 469.3 1244.4C472.2 1245.5 474.5 1248.0 477.0 1250.0C479.6 1252.1 481.7 1255.1 484.7 1257.0C488.0 1259.1 493.3 1259.4 496.3 1261.7C498.9 1263.7 500.1 1266.8 502.0 1269.4C503.9 1271.9 505.5 1274.9 507.8 1277.0C510.0 1279.1 512.3 1280.7 515.5 1282.0C519.6 1283.7 525.0 1284.3 531.0 1285.0C539.1 1285.9 544.6 1285.7 560.0 1286.0C619.9 1287.1 829.2 1286.2 1000.0 1286.3C1238.3 1286.4 1570.7 1286.4 1856.0 1286.5"/>
</g>
<g fill="none" stroke-width="9.3" stroke-linecap="round"><line x1="1156.0" y1="100.6" x2="1276.2" y2="100.6" stroke="#863400"/><line x1="1156.0" y1="166.2" x2="1276.2" y2="166.2" stroke="#FF0080"/><line x1="1156.0" y1="230.5" x2="1276.2" y2="230.5" stroke="#000000"/><line x1="1156.0" y1="295.6" x2="1276.2" y2="295.6" stroke="#FF0000" stroke-dasharray="36.3 47.9"/><line x1="1156.0" y1="360.3" x2="1265.0" y2="360.3" stroke="#008000" stroke-dasharray="7.7 42.3"/><line x1="1156.0" y1="425.3" x2="1262.0" y2="425.3" stroke="#0000FF" stroke-dasharray="1.5 15.4"/><line x1="1156.0" y1="490.0" x2="1276.2" y2="490.0" stroke="#005B5F" stroke-dasharray="14.6 23.3"/></g>
<g font-size="52.9"><text x="1288.5" y="117.9">Aniline (in 1M HCl)</text><text x="1288.5" y="181.8">TA (in 1M HCl)</text><text x="1288.5" y="247.4">TA radical cation</text><text x="1288.5" y="313.0">PANI (TA3%)_ 30min</text><text x="1288.5" y="377.5">PANI (TA3%)_ 60min</text><text x="1288.5" y="442.8">PANI (TA3%)_ 90min</text><text x="1288.5" y="507.0">PANI (TA3%)_ 120min</text></g>
</svg></body></html>
